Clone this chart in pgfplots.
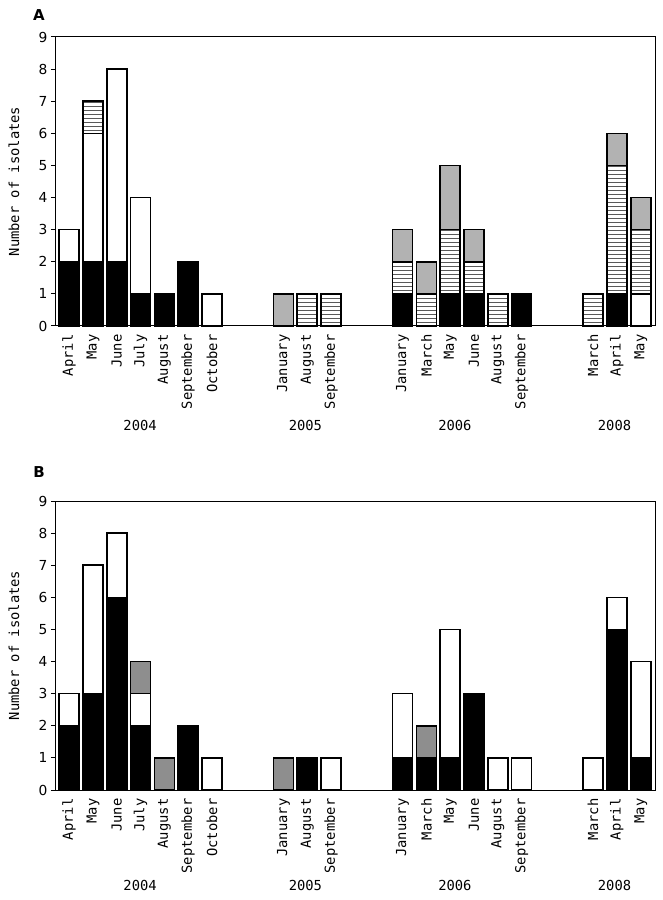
\documentclass[border=0pt]{standalone}
\usepackage{pgfplots}
\usepackage{pgfplotstable}
\pgfplotsset{compat=1.18}
\usepackage{fontspec}
\setmainfont{DejaVu Sans Mono}
\newfontfamily\sansf{DejaVu Sans}
\usetikzlibrary{patterns}

\definecolor{lightgrayA}{RGB}{178,178,178}
\definecolor{midgrayB}{RGB}{142,142,142}

% wide tile so the horizontal hatching renders as solid lines
\pgfdeclarepatternformonly{hlines}{\pgfpoint{0pt}{0pt}}{\pgfpoint{100pt}{4pt}}{\pgfpoint{100pt}{4pt}}{
  \pgfsetlinewidth{0.8pt}
  \pgfpathmoveto{\pgfpoint{-1pt}{2pt}}
  \pgfpathlineto{\pgfpoint{101pt}{2pt}}
  \pgfusepath{stroke}
}

% x: slot position, months grouped by year with gaps
\pgfplotstableread{
x  black white hatch gray
0  2 1 0 0
1  2 4 1 0
2  2 6 0 0
3  1 3 0 0
4  1 0 0 0
5  2 0 0 0
6  0 1 0 0
9  0 0 0 1
10 0 0 1 0
11 0 0 1 0
14 1 0 1 1
15 0 0 1 1
16 1 0 2 2
17 1 0 1 1
18 0 0 1 0
19 1 0 0 0
22 0 0 1 0
23 1 0 4 1
24 0 1 2 1
}\dataA

\pgfplotstableread{
x  black white gray
0  2 1 0
1  3 4 0
2  6 2 0
3  2 1 1
4  0 0 1
5  2 0 0
6  0 1 0
9  0 0 1
10 1 0 0
11 0 1 0
14 1 2 0
15 1 0 1
16 1 4 0
17 3 0 0
18 0 1 0
19 0 1 0
22 0 1 0
23 5 1 0
24 1 3 0
}\dataB

\newcommand{\lblfont}{\fontsize{13.8}{16}\selectfont}

\pgfplotsset{
  panel/.style={
    width=599pt, height=289pt, scale only axis,
    ybar stacked, bar width=0.84,
    xmin=-0.55, xmax=24.6, ymin=0, ymax=9,
    ytick={0,...,9},
    xtick={0,1,2,3,4,5,6,9,10,11,14,15,16,17,18,19,22,23,24},
    xticklabels={April,May,June,July,August,September,October,
      January,August,September,
      January,March,May,June,August,September,
      March,April,May},
    x tick label style={rotate=90, anchor=east, font=\lblfont},
    y tick label style={font=\sansf\lblfont},
    /pgf/number format/assume math mode=true,
    xtick style={draw=none},
    ytick style={line width=1pt, black},
    ytick pos=left,
    tick align=outside,
    major tick length=5pt,
    axis line style={line width=1pt},
    ylabel={Number of isolates},
    every axis y label/.style={at={(axis description cs:-0.07,0.5)}, rotate=90, anchor=center, font=\lblfont},
    clip=false,
    every axis plot/.append style={draw=black, line width=1.6pt},
  },
  hatched/.style={fill=white, postaction={pattern=hlines}},
}

\begin{document}
\begin{tikzpicture}
\path (0,0) rectangle (662pt,900pt);

\begin{axis}[panel, at={(56pt,574pt)}, anchor=south west]
\addplot[fill=black] table[x=x, y=black] {\dataA};
\addplot[fill=white] table[x=x, y=white] {\dataA};
\addplot[hatched] table[x=x, y=hatch] {\dataA};
\addplot[fill=lightgrayA] table[x=x, y=gray] {\dataA};
\node[font=\lblfont] at (axis cs:2.98,0) [yshift=-99pt] {2004};
\node[font=\lblfont] at (axis cs:9.92,0) [yshift=-99pt] {2005};
\node[font=\lblfont] at (axis cs:16.2,0) [yshift=-99pt] {2006};
\node[font=\lblfont] at (axis cs:22.9,0) [yshift=-99pt] {2008};
\end{axis}

\begin{axis}[panel, at={(56pt,110pt)}, anchor=south west]
\addplot[fill=black] table[x=x, y=black] {\dataB};
\addplot[fill=white] table[x=x, y=white] {\dataB};
\addplot[fill=midgrayB] table[x=x, y=gray] {\dataB};
\node[font=\lblfont] at (axis cs:2.98,0) [yshift=-95pt] {2004};
\node[font=\lblfont] at (axis cs:9.92,0) [yshift=-95pt] {2005};
\node[font=\lblfont] at (axis cs:16.2,0) [yshift=-95pt] {2006};
\node[font=\lblfont] at (axis cs:22.9,0) [yshift=-95pt] {2008};
\end{axis}

\node[font=\sansf\bfseries\fontsize{15}{18}\selectfont] at (39pt,885pt) {A};
\node[font=\sansf\bfseries\fontsize{15}{18}\selectfont] at (39pt,428pt) {B};
\end{tikzpicture}
\end{document}
